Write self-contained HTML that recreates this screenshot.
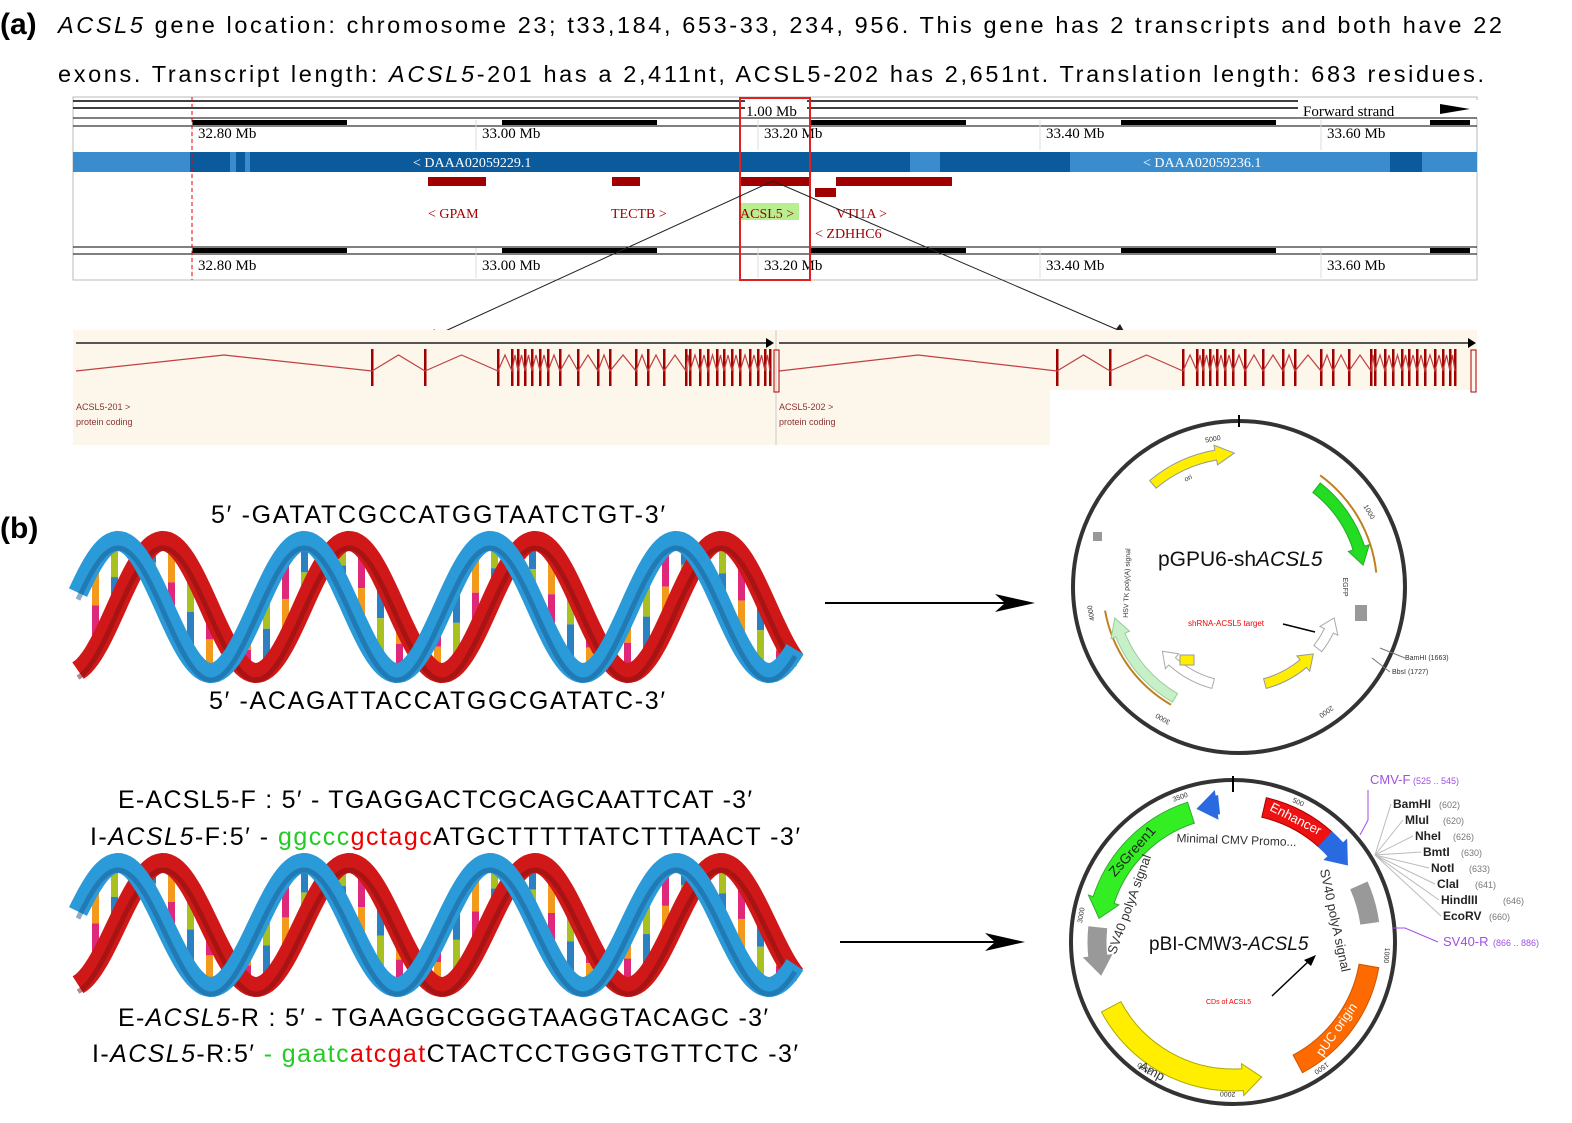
<!DOCTYPE html><html><head><meta charset="utf-8"><style>
body{margin:0;background:#fff}
svg{display:block}
text{font-family:"Liberation Sans",sans-serif}
.m{font-family:"Liberation Serif",serif}
</style></head><body>
<svg id="s" width="1572" height="1123" viewBox="0 0 1572 1123" xmlns="http://www.w3.org/2000/svg">
<text x="0" y="34" font-size="30" font-weight="bold">(a)</text>
<text x="58" y="33" font-size="23.5" textLength="1444" lengthAdjust="spacing"><tspan font-style="italic">ACSL5</tspan> gene location: chromosome 23; t33,184, 653-33, 234, 956. This gene has 2 transcripts and both have 22</text>
<text x="58" y="82" font-size="23.5" textLength="1426" lengthAdjust="spacing">exons. Transcript length: <tspan font-style="italic">ACSL5</tspan>-201 has a 2,411nt, ACSL5-202 has 2,651nt. Translation length: 683 residues.</text>
<rect x="73" y="97" width="1404" height="183" fill="#fff" stroke="#bbb"/>
<line x1="73" y1="101" x2="1477" y2="101" stroke="#000" stroke-width="1.5"/>
<line x1="73" y1="108" x2="1477" y2="108" stroke="#000" stroke-width="1.5"/>
<rect x="745" y="100" width="62" height="18" fill="#fff"/>
<text x="746" y="116" font-size="15" class="m">1.00 Mb</text>
<rect x="1298" y="100" width="180" height="18" fill="#fff"/>
<text x="1303" y="116" font-size="15" class="m">Forward strand</text>
<polygon points="1440,104 1470,109 1440,114" fill="#000"/>
<line x1="73" y1="118" x2="1477" y2="118" stroke="#000"/>
<line x1="73" y1="126" x2="1477" y2="126" stroke="#000"/>
<g id="sb1"></g>
<rect x="73" y="152" width="1404" height="20" fill="#3a8ccc"/>
<rect x="190" y="152" width="720" height="20" fill="#0a5a9c"/>
<rect x="940" y="152" width="130" height="20" fill="#0a5a9c"/>
<rect x="1390" y="152" width="32" height="20" fill="#0a5a9c"/>
<rect x="230" y="152" width="6" height="20" fill="#3a8ccc"/>
<rect x="245" y="152" width="5" height="20" fill="#3a8ccc"/>
<text x="413" y="167" font-size="14" fill="#fff" class="m">&lt; DAAA02059229.1</text>
<text x="1143" y="167" font-size="14" fill="#fff" class="m">&lt; DAAA02059236.1</text>
<g fill="#a00000"><rect x="428" y="177" width="58" height="9"/><rect x="612" y="177" width="28" height="9"/><rect x="739" y="177" width="71" height="9"/><rect x="836" y="177" width="116" height="9"/><rect x="815" y="188" width="21" height="9"/></g>
<rect x="739" y="203" width="60" height="17" fill="#b9ee90"/>
<g fill="#a00000" font-size="14"><text x="428" y="218" class="m">&lt; GPAM</text><text x="611" y="218" class="m">TECTB &gt;</text><text x="740" y="218" class="m">ACSL5 &gt;</text><text x="836" y="218" class="m">VTI1A &gt;</text><text x="815" y="238" class="m">&lt; ZDHHC6</text></g>
<line x1="73" y1="247" x2="1477" y2="247" stroke="#000"/>
<line x1="73" y1="254" x2="1477" y2="254" stroke="#000"/>
<g id="sb2"></g>
<line x1="192" y1="97" x2="192" y2="280" stroke="#e00" stroke-dasharray="4,3"/>
<rect x="740" y="98" width="70" height="182" fill="none" stroke="#e02020" stroke-width="2"/>
<line x1="773" y1="181" x2="430" y2="338" stroke="#222"/>
<line x1="773" y1="181" x2="1125" y2="333" stroke="#222"/>
<polygon points="430,338 434,329 438,334" fill="#222"/>
<polygon points="1125,333 1116,329 1120,324" fill="#222"/>
<rect x="73" y="330" width="1404" height="115" fill="#fdf6ea"/>
<rect x="1050" y="390" width="427" height="55" fill="#fff"/>
<line x1="776" y1="330" x2="776" y2="445" stroke="#ccc"/>
<g id="tr"></g>
<text x="76" y="410" font-size="9" fill="#833">ACSL5-201 &gt;</text><text x="76" y="425" font-size="9" fill="#833">protein coding</text>
<text x="779" y="410" font-size="9" fill="#833">ACSL5-202 &gt;</text><text x="779" y="425" font-size="9" fill="#833">protein coding</text>
<text x="0" y="538" font-size="30" font-weight="bold">(b)</text>
<g id="dna1"></g><g id="dna2"></g>
<g font-size="25">
<text x="211" y="523" textLength="454" lengthAdjust="spacing">5′  -GATATCGCCATGGTAATCTGT-3′</text>
<text x="209" y="709" textLength="456" lengthAdjust="spacing">5′  -ACAGATTACCATGGCGATATC-3′</text>
<text x="118" y="808" textLength="634" lengthAdjust="spacing">E-ACSL5-F : 5′  - TGAGGACTCGCAGCAATTCAT -3′</text>
<text x="90" y="845" textLength="710" lengthAdjust="spacing">I-<tspan font-style="italic">ACSL5</tspan>-F:5′  - <tspan fill="#22cc22">ggccc</tspan><tspan fill="#e00">gctagc</tspan>ATGCTTTTTATCTTTAACT -3′</text>
<text x="118" y="1026" textLength="650" lengthAdjust="spacing">E-<tspan font-style="italic">ACSL5</tspan>-R : 5′  - TGAAGGCGGGTAAGGTACAGC -3′</text>
<text x="92" y="1062" textLength="706" lengthAdjust="spacing">I-<tspan font-style="italic">ACSL5</tspan>-R:5′  <tspan fill="#22cc22">- gaatc</tspan><tspan fill="#e00">atcgat</tspan>CTACTCCTGGGTGTTCTC -3′</text>
</g>
<line x1="825" y1="603" x2="1010" y2="603" stroke="#000" stroke-width="2"/><polygon points="1035,603 995,594 1005,603 995,612" fill="#000"/>
<line x1="840" y1="942" x2="1000" y2="942" stroke="#000" stroke-width="2"/><polygon points="1025,942 985,933 995,942 985,951" fill="#000"/>
<g id="p1"></g><g id="p2"></g>
</svg>
<script>
const NS="http://www.w3.org/2000/svg";
function el(p,t,a,txt){const e=document.createElementNS(NS,t);for(const k in a)e.setAttribute(k,a[k]);if(txt!=null)e.textContent=txt;document.getElementById(p).appendChild(e);return e;}
[["sb1",120,138],["sb2",248,270]].forEach(([id,y,ty])=>{
 const xs=[192,347,502,657,811,966,1121,1276,1430];
 for(let i=0;i<8;i++){ if(i%2==0) el(id,"rect",{x:xs[i],y:y,width:xs[i+1]-xs[i],height:5,fill:"#000"}); }
 el(id,"rect",{x:1430,y:y,width:40,height:5,fill:"#000"});
 [[192,"32.80 Mb"],[476,"33.00 Mb"],[758,"33.20 Mb"],[1040,"33.40 Mb"],[1321,"33.60 Mb"]].forEach(([x,t])=>{el(id,"text",{x:x+6,y:ty,"font-size":15,class:"m"},t);el(id,"line",{x1:x,y1:y,x2:x,y2:y+30,stroke:"#ddd"});});
});
function tr(x0,x1,exons){
 el("tr","line",{x1:x0,y1:343,x2:x1-8,y2:343,stroke:"#555","stroke-width":2});
 el("tr","polygon",{points:`${x1-8},338 ${x1},343 ${x1-8},348`,fill:"#000"});
 for(let i=0;i<exons.length;i++){el("tr","rect",{x:exons[i]-1,y:349,width:2.5,height:37,fill:"#a00000"});}
 let d=`M${x0},371 L${(x0+exons[0])/2},355 L${exons[0]},371`;
 for(let i=1;i<exons.length;i++){d+=` L${(exons[i-1]+exons[i])/2},355 L${exons[i]},371`;}
 el("tr","path",{d:d,fill:"none",stroke:"#c04040","stroke-width":1.2});
}
const e1=[372,425,498,512,518,525,532,540,548,560,578,598,610,636,648,664,686,690,700,708,717,724,732,740,750,758,765,770];
tr(76,774,e1);
const e2=e1.map(x=>x-372+1057).filter(x=>x<1476);
tr(779,1476,e2);
el("tr","rect",{x:774,y:350,width:5,height:42,fill:"none",stroke:"#a00"});
el("tr","rect",{x:1471,y:350,width:5,height:42,fill:"none",stroke:"#a00"});
function dna(id,cy,A){
 const x0=78,x1=795,P=186;
 const ry=x=>cy-A*Math.cos(2*Math.PI*(x-163)/P), by=x=>cy-A*Math.cos(2*Math.PI*(x-118)/P);
 const cols=["#f39a1c","#a8c020","#e0287a","#2a80c0"];
 let k=0;
 for(let x=95;x<790;x+=19){const a=ry(x),b=by(x);const t=Math.min(a,b),bt=Math.max(a,b);const m=(t+bt)/2;
  el(id,"rect",{x:x-3,y:t,width:7,height:m-t,fill:cols[k%4]});el(id,"rect",{x:x-3,y:m,width:7,height:bt-m,fill:cols[(k+2)%4]});k++;}
 function strand(f,col,dark){let d="";for(let x=x0;x<=x1;x+=3){d+=(x==x0?"M":"L")+x+","+f(x).toFixed(1);}
  el(id,"path",{d:d,fill:"none",stroke:col,"stroke-width":20});el(id,"path",{d:d,fill:"none",stroke:dark,"stroke-width":5,"stroke-opacity":0.5,transform:"translate(0,7)"});}
 strand(ry,"#d01818","#801010");strand(by,"#2a9ad8","#1a5a90");
}
dna("dna1",607,66);dna("dna2",925,62);
function pt(cx,cy,r,a){const t=(a-90)*Math.PI/180;return [cx+r*Math.cos(t),cy+r*Math.sin(t)];}
function arc(id,cx,cy,r,a0,a1,w,fill,stroke,arrow){
 const ro=r+w/2,ri=r-w/2;let dir=a1>a0?1:-1;const head=arrow?8*dir:0;const ae=a1-head;
 const p1=pt(cx,cy,ro,a0),p2=pt(cx,cy,ro,ae),p3=pt(cx,cy,ri,ae),p4=pt(cx,cy,ri,a0);
 const lg=Math.abs(ae-a0)>180?1:0,sw=dir>0?1:0;
 let d=`M${p1} A${ro},${ro} 0 ${lg} ${sw} ${p2}`;
 if(arrow){const q1=pt(cx,cy,ro+5,ae),tip=pt(cx,cy,r,a1),q2=pt(cx,cy,ri-5,ae);d+=` L${q1} L${tip} L${q2} L${p3}`;}else d+=` L${p3}`;
 d+=` A${ri},${ri} 0 ${lg} ${1-sw} ${p4} Z`;
 el(id,"path",{d:d,fill:fill,stroke:stroke||"none","stroke-width":1});
}
function rtext(id,cx,cy,r,a,t,size,col,extra){const [x,y]=pt(cx,cy,r,a);return el(id,"text",Object.assign({x:x,y:y,"font-size":size,fill:col||"#333","text-anchor":"middle",transform:`rotate(${a} ${x} ${y})`},extra||{}),t);}
(function(){const id="p1",cx=1239,cy=587,r=166;
 el(id,"circle",{cx:cx,cy:cy,r:r,fill:"#fff",stroke:"#333","stroke-width":4});
 el(id,"line",{x1:cx,y1:cy-r-6,x2:cx,y2:cy-r+6,stroke:"#000","stroke-width":2});
 arc(id,cx,cy,134,-40,-2,10,"#ffee00","#999",true);
 arc(id,cx,cy,126,38,80,12,"#22dd22","#2a2",true);
 arc(id,cx,cy,138,36,84,2,"#c08020");
 arc(id,cx,cy,136,-100,-150,2,"#c08020");
 arc(id,cx,cy,128,-150,-104,10,"#c8f0c8","#9c9",true);
 arc(id,cx,cy,100,-165,-130,10,"#fff","#aaa",true);
 arc(id,cx,cy,100,165,132,10,"#ffee00","#999",true);
 arc(id,cx,cy,100,128,108,10,"#fff","#aaa",true);
 el(id,"rect",{x:1180,y:655,width:14,height:10,fill:"#ffee00",stroke:"#999"});
 el(id,"rect",{x:1355,y:605,width:12,height:16,fill:"#999"});
 el(id,"rect",{x:1093,y:532,width:9,height:9,fill:"#999"});
 el(id,"text",{x:1158,y:566,"font-size":21,fill:"#111"}).innerHTML='pGPU6-sh<tspan font-style="italic">ACSL5</tspan>';
 el(id,"text",{x:1188,y:626,"font-size":8,fill:"#e00"},"shRNA-ACSL5 target");
 el(id,"line",{x1:1283,y1:624,x2:1315,y2:632,stroke:"#000","stroke-width":1.5});
 el(id,"line",{x1:1380,y1:648,x2:1405,y2:658,stroke:"#777"});el(id,"line",{x1:1372,y1:658,x2:1390,y2:672,stroke:"#777"});
 el(id,"text",{x:1405,y:660,"font-size":7,fill:"#333"},"BamHI (1663)");
 el(id,"text",{x:1392,y:674,"font-size":7,fill:"#333"},"BbsI (1727)");
 rtext(id,cx,cy,148,-10,"5000",7);rtext(id,cx,cy,148,60,"1000",7);rtext(id,cx,cy,148,-100,"4000",7);rtext(id,cx,cy,150,145,"2000",7);rtext(id,cx,cy,150,-150,"3000",7);
 rtext(id,cx,cy,104,90,"EGFP",7);rtext(id,cx,cy,110,-88,"HSV TK poly(A) signal",7);rtext(id,cx,cy,118,-25,"ori",7);
})();
(function(){const id="p2",cx=1233,cy=942,r=162;
 el(id,"circle",{cx:cx,cy:cy,r:r,fill:"#fff",stroke:"#333","stroke-width":4});
 el(id,"line",{x1:cx,y1:cy-r-4,x2:cx,y2:cy-r+12,stroke:"#000","stroke-width":2});
 arc(id,cx,cy,138,13,42,20,"#ee1111","#a00",false);
 arc(id,cx,cy,138,42,56,20,"#2a6ae0","#2a6ae0",true);
 arc(id,cx,cy,138,-6,-15,18,"#2a6ae0","#2a6ae0",true);
 arc(id,cx,cy,136,-18,-80,22,"#33ee22","#3a3",true);
 arc(id,cx,cy,136,-84,-104,18,"#999","#999",true);
 arc(id,cx,cy,138,66,82,18,"#999","#999",false);
 arc(id,cx,cy,138,100,152,20,"#ff6a00","#c50",false);
 arc(id,cx,cy,138,-118,-192,22,"#ffee00","#aa0",true);
 el(id,"text",{x:1149,y:950,"font-size":19,fill:"#111"}).innerHTML='pBI-CMW3-<tspan font-style="italic">ACSL5</tspan>';
 el(id,"text",{x:1206,y:1004,"font-size":7,fill:"#e00"},"CDs of ACSL5");
 el(id,"line",{x1:1272,y1:996,x2:1310,y2:960,stroke:"#000","stroke-width":1.5});
 el(id,"polygon",{points:"1316,955 1304,960 1311,966",fill:"#000"});
 rtext(id,cx,cy,134,27,"Enhancer",13,"#fff");
 rtext(id,cx,cy,131,-48,"ZsGreen1",14,"#222");
 rtext(id,cx,cy,98,2,"Minimal CMV Promo...",12,"#333");
 rtext(id,cx,cy,106,-70,"SV40 polyA signal",13,"#333");
 rtext(id,cx,cy,100,78,"SV40 polyA signal",13,"#333");
 el(id,"text",{x:1150,y:1075,"font-size":13,fill:"#333","text-anchor":"middle",transform:"rotate(28 1150 1075)"},"Amp");
 el(id,"text",{x:1340,y:1032,"font-size":13,fill:"#fff","text-anchor":"middle",transform:"rotate(-55 1340 1032)"},"pUC origin");
 el(id,"text",{x:1370,y:784,"font-size":13,fill:"#a050e0"},"CMV-F");el(id,"text",{x:1413,y:784,"font-size":9,fill:"#a050e0"},"(525 .. 545)");
 el(id,"text",{x:1443,y:946,"font-size":13,fill:"#a050e0"},"SV40-R");el(id,"text",{x:1493,y:946,"font-size":9,fill:"#a050e0"},"(866 .. 886)");
 el(id,"path",{d:"M1360,835 L1368,820 L1368,790",fill:"none",stroke:"#a050e0"});
 el(id,"path",{d:"M1392,928 L1405,928 L1438,942",fill:"none",stroke:"#a050e0"});
 const ens=[["BamHI","(602)",808],["MluI","(620)",824],["NheI","(626)",840],["BmtI","(630)",856],["NotI","(633)",872],["ClaI","(641)",888],["HindIII","(646)",904],["EcoRV","(660)",920]];
 const xs=[1393,1405,1415,1423,1431,1437,1441,1443];
 ens.forEach(([n,p,y],i)=>{const w=n.length*8;el(id,"text",{x:xs[i],y:y,"font-size":12,"font-weight":"bold",fill:"#222"},n);el(id,"text",{x:xs[i]+w+6,y:y,"font-size":9,fill:"#777"},p);el(id,"line",{x1:1375,y1:855,x2:xs[i]-2,y2:y-4,stroke:"#bbb"});});
 rtext(id,cx,cy,152,-20,"3500",7);rtext(id,cx,cy,152,25,"500",7);rtext(id,cx,cy,152,-80,"3000",7);rtext(id,cx,cy,152,95,"1000",7);rtext(id,cx,cy,152,145,"1500",7);rtext(id,cx,cy,152,-145,"2500",7);rtext(id,cx,cy,150,182,"2000",7);
})();
</script>
</body></html>
